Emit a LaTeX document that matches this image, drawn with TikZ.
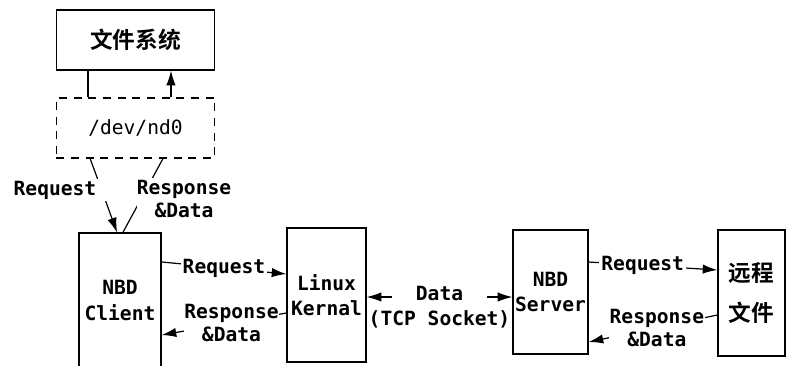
\documentclass[tikz,border=0pt]{standalone}
\usepackage{fontspec}
\setmonofont{DejaVu Sans Mono}
\newfontfamily\cjk{Noto Sans CJK SC}[BoldFont={Noto Sans CJK SC Bold}]
\usetikzlibrary{arrows.meta,positioning}

\tikzset{
  blk/.style={draw, align=center, inner sep=0pt,
    font=\ttfamily\bfseries\fontsize{14.7}{19}\selectfont},
  lbl/.style={fill=white, align=center, inner sep=1.5pt,
    font=\ttfamily\bfseries\fontsize{14.7}{17}\selectfont},
}

\begin{document}
\begin{tikzpicture}[x=0.75pt,y=-0.75pt,line width=0.9pt,
    >={Latex[length=11pt,width=7pt]}]
  \useasboundingbox (0,0) rectangle (787,365);
  % upper part: file system over the block device
  \node[blk, minimum width=119pt, minimum height=45pt,
    font=\cjk\bfseries\fontsize{17}{20}\selectfont] (fs) at (135.5,40) {文件系统};
  \node[blk, dash pattern=on 6pt off 5pt, minimum width=119pt, minimum height=45pt,
    font=\ttfamily\fontsize{14.7}{17}\selectfont] (dev) at (135.5,128) {/dev/nd0};
  % lower row
  \node[blk, minimum width=61.5pt, minimum height=101.25pt] (client) at (120,300.5) {NBD\\Client};
  \node[blk, minimum width=59.25pt, minimum height=100.5pt] (kernel) at (326.5,295) {Linux\\Kernal};
  \node[blk, minimum width=56.25pt, minimum height=93pt] (server) at (550.5,292) {NBD\\Server};
  \node[blk, minimum width=50.25pt, minimum height=94.5pt,
    font=\cjk\bfseries\fontsize{17}{30}\selectfont] (remote) at (751.5,293) {远程\\文件};

  \draw ([xshift=-35.6pt]fs.south) -- ([xshift=-35.6pt]dev.north);
  \draw[->] ([xshift=26.6pt]dev.north) -- ([xshift=26.6pt]fs.south);

  \draw[->] ([xshift=-34pt]dev.south) -- ([xshift=-2.2pt]client.north);
  \draw ([xshift=20.6pt]dev.south) -- ([xshift=2.2pt]client.north);
  \node[lbl, inner xsep=8pt] (req0) at (55,190) {Request};
  \node[lbl, inner xsep=0pt] (resp0) at (184,199) {Response\\\&Data};

  \draw[->] ([yshift=28.9pt]client.east) -- node[lbl]{Request} ([yshift=15.75pt]kernel.west);
  \draw[->] ([yshift=-13.5pt]kernel.west) -- node[lbl, inner xsep=0.5pt, pos=.44]{Response\\\&Data} ([yshift=-25.9pt]client.east);

  \draw[<->] ([yshift=-1.5pt]kernel.east) -- node[lbl, inner xsep=18pt, yshift=3pt] (data) {Data} ([yshift=-3.75pt]server.west);
  \node[lbl, fill=none, below=4pt of data] (tcp) {(TCP Socket)};

  \draw[->] ([yshift=22.5pt]server.east) -- node[lbl, pos=.42]{Request} ([yshift=17.25pt]remote.west);
  \draw[->] ([yshift=-16.5pt]remote.west) -- node[lbl, inner xsep=0.5pt, pos=.47]{Response\\\&Data} ([yshift=-37.5pt]server.east);
\end{tikzpicture}
\end{document}
